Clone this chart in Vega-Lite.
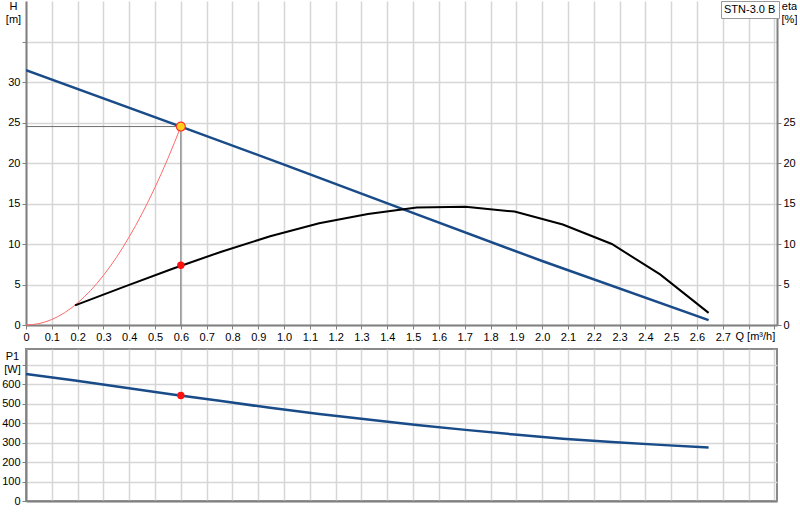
{
  "$schema": "https://vega.github.io/schema/vega-lite/v6.json",
  "background": "white",
  "padding": {"left": 0, "top": 0, "right": 0, "bottom": 0},
  "spacing": 6,
  "config": {
    "font": "Liberation Sans",
    "view": {"stroke": null},
    "axis": {
      "labelFont": "Liberation Sans",
      "labelFontSize": 11,
      "labelColor": "#000000",
      "titleFont": "Liberation Sans",
      "titleFontSize": 11,
      "titleFontWeight": "normal",
      "titleColor": "#000000",
      "domainColor": "#808080",
      "domainWidth": 2,
      "tickColor": "#808080",
      "tickSize": 4,
      "labelPadding": 2,
      "gridColor": "#d6d6d6",
      "gridWidth": 1.5,
      "labelOverlap": false,
      "labelFlush": false,
      "tickCount": 50
    },
    "legend": {
      "orient": "none",
      "legendX": 695,
      "legendY": 0,
      "padding": 3,
      "strokeColor": "#9a9a9a",
      "fillColor": "white",
      "symbolOpacity": 0,
      "symbolSize": 0,
      "symbolStrokeWidth": 0,
      "labelOffset": -11,
      "labelFontSize": 11,
      "labelFont": "Liberation Sans",
      "labelColor": "#000000"
    }
  },
  "datasets": {
    "head": [
      {"q": 0, "h": 31.45},
      {"q": 0.6, "h": 24.5},
      {"q": 1.0, "h": 19.8},
      {"q": 1.46, "h": 14.3},
      {"q": 2.0, "h": 7.9},
      {"q": 2.645, "h": 0.6}
    ],
    "eta": [
      {"q": 0.19, "eta": 2.43},
      {"q": 0.379, "eta": 4.7},
      {"q": 0.568, "eta": 6.95},
      {"q": 0.757, "eta": 9.05},
      {"q": 0.946, "eta": 10.95},
      {"q": 1.136, "eta": 12.55},
      {"q": 1.325, "eta": 13.7},
      {"q": 1.514, "eta": 14.5},
      {"q": 1.703, "eta": 14.6},
      {"q": 1.893, "eta": 14.0},
      {"q": 2.08, "eta": 12.4},
      {"q": 2.27, "eta": 10.0},
      {"q": 2.457, "eta": 6.25},
      {"q": 2.645, "eta": 1.5}
    ],
    "system": [
      {"q": 0, "h": 0},
      {"q": 0.05, "h": 0.17},
      {"q": 0.1, "h": 0.68},
      {"q": 0.15, "h": 1.53},
      {"q": 0.2, "h": 2.72},
      {"q": 0.25, "h": 4.25},
      {"q": 0.3, "h": 6.12},
      {"q": 0.35, "h": 8.33},
      {"q": 0.4, "h": 10.88},
      {"q": 0.45, "h": 13.77},
      {"q": 0.5, "h": 17.0},
      {"q": 0.55, "h": 20.57},
      {"q": 0.6, "h": 24.5}
    ],
    "power": [
      {"q": 0, "p": 652},
      {"q": 0.19, "p": 618},
      {"q": 0.379, "p": 583},
      {"q": 0.568, "p": 547},
      {"q": 0.757, "p": 513},
      {"q": 0.946, "p": 478},
      {"q": 1.136, "p": 447},
      {"q": 1.325, "p": 418},
      {"q": 1.514, "p": 390},
      {"q": 1.703, "p": 365},
      {"q": 1.893, "p": 341},
      {"q": 2.08, "p": 320},
      {"q": 2.27, "p": 303},
      {"q": 2.457, "p": 288},
      {"q": 2.645, "p": 275}
    ],
    "guides": [
      {"q": 0, "h": 24.5, "q2": 0.6, "h2": 24.5},
      {"q": 0.6, "h": 0, "q2": 0.6, "h2": 24.5}
    ],
    "duty": [
      {"q": 0.6, "h": 24.5, "eta": 7.37, "p": 541}
    ]
  },
  "vconcat": [
    {
      "width": 751,
      "height": 324,
      "layer": [
        {
          "layer": [
            {
              "data": {"name": "head"},
              "mark": {"type": "line", "strokeWidth": 2.5, "clip": true},
              "encoding": {
                "x": {
                  "field": "q",
                  "type": "quantitative",
                  "scale": {"domain": [0, 2.91], "nice": false, "zero": false},
                  "axis": {
                    "values": [0, 0.1, 0.2, 0.3, 0.4, 0.5, 0.6, 0.7, 0.8, 0.9, 1.0, 1.1, 1.2, 1.3, 1.4, 1.5, 1.6, 1.7, 1.8, 1.9, 2.0, 2.1, 2.2, 2.3, 2.4, 2.5, 2.6, 2.7, 2.8, 2.9],
                    "labelExpr": "datum.value > 2.75 ? '' : (datum.value == 0 ? '0' : format(datum.value, '.1f'))",
                    "title": "Q [m³/h]",
                    "titleX": 709,
                    "titleY": 5,
                    "titleAlign": "left",
                    "titleBaseline": "top",
                    "grid": true
                  }
                },
                "y": {
                  "field": "h",
                  "type": "quantitative",
                  "scale": {"domain": [0, 40], "nice": false},
                  "axis": {
                    "values": [0, 5, 10, 15, 20, 25, 30, 35],
                    "labelExpr": "datum.value > 30 ? '' : datum.label",
                    "title": ["H", "[m]"],
                    "titleAngle": 0,
                    "titleX": -13,
                    "titleY": 8,
                    "titleAlign": "center",
                    "titleBaseline": "alphabetic",
                    "titleLineHeight": 13,
                    "grid": true
                  }
                },
                "color": {
                  "datum": "STN-3.0 B",
                  "type": "nominal",
                  "scale": {"domain": ["STN-3.0 B"], "range": ["#184b88"]},
                  "legend": {"title": null}
                }
              }
            },
            {
              "data": {"name": "guides"},
              "mark": {"type": "rule", "color": "#707070", "strokeWidth": 1},
              "encoding": {
                "x": {"field": "q", "type": "quantitative"},
                "x2": {"field": "q2"},
                "y": {"field": "h", "type": "quantitative"},
                "y2": {"field": "h2"}
              }
            },
            {
              "data": {"name": "system"},
              "mark": {"type": "line", "color": "#ff6a6a", "strokeWidth": 1, "interpolate": "monotone"},
              "encoding": {
                "x": {"field": "q", "type": "quantitative"},
                "y": {"field": "h", "type": "quantitative"}
              }
            },
            {
              "data": {"name": "duty"},
              "mark": {"type": "point", "shape": "circle", "filled": true, "fill": "#ffd21a", "stroke": "#ff3030", "strokeWidth": 1.2, "size": 80, "opacity": 1},
              "encoding": {
                "x": {"field": "q", "type": "quantitative"},
                "y": {"field": "h", "type": "quantitative"}
              }
            }
          ]
        },
        {
          "layer": [
            {
              "data": {"name": "eta"},
              "mark": {"type": "line", "color": "#000000", "strokeWidth": 2},
              "encoding": {
                "x": {"field": "q", "type": "quantitative"},
                "y": {
                  "field": "eta",
                  "type": "quantitative",
                  "scale": {"domain": [0, 40], "nice": false},
                  "axis": {
                    "orient": "right",
                    "values": [0, 5, 10, 15, 20, 25],
                    "title": ["eta", "[%]"],
                    "titleAngle": 0,
                    "titleX": 12,
                    "titleY": 8,
                    "titleAlign": "center",
                    "titleBaseline": "alphabetic",
                    "titleLineHeight": 13,
                    "grid": false
                  }
                }
              }
            },
            {
              "data": {"name": "duty"},
              "mark": {"type": "circle", "color": "#ff1010", "size": 55, "opacity": 1},
              "encoding": {
                "x": {"field": "q", "type": "quantitative"},
                "y": {"field": "eta", "type": "quantitative"}
              }
            }
          ]
        }
      ],
      "resolve": {"scale": {"y": "independent"}}
    },
    {
      "width": 751,
      "height": 152,
      "view": {"stroke": "#8a8a8a", "strokeWidth": 2},
      "layer": [
        {
          "data": {"name": "power"},
          "mark": {"type": "line", "color": "#184b88", "strokeWidth": 2.5},
          "encoding": {
            "x": {
              "field": "q",
              "type": "quantitative",
              "scale": {"domain": [0, 2.91], "nice": false, "zero": false},
              "axis": {
                "values": [0, 0.1, 0.2, 0.3, 0.4, 0.5, 0.6, 0.7, 0.8, 0.9, 1.0, 1.1, 1.2, 1.3, 1.4, 1.5, 1.6, 1.7, 1.8, 1.9, 2.0, 2.1, 2.2, 2.3, 2.4, 2.5, 2.6, 2.7, 2.8, 2.9],
                "labels": false,
                "ticks": false,
                "title": null,
                "grid": true
              }
            },
            "y": {
              "field": "p",
              "type": "quantitative",
              "scale": {"domain": [0, 780], "nice": false},
              "axis": {
                "values": [0, 100, 200, 300, 400, 500, 600, 700],
                "labelExpr": "datum.value > 650 ? '' : datum.label",
                "title": ["P1", "[W]"],
                "titleAngle": 0,
                "titleX": -14,
                "titleY": 10,
                "titleAlign": "center",
                "titleBaseline": "alphabetic",
                "titleLineHeight": 13,
                "grid": true
              }
            }
          }
        },
        {
          "data": {"name": "duty"},
          "mark": {"type": "circle", "color": "#ff1010", "size": 55, "opacity": 1},
          "encoding": {
            "x": {"field": "q", "type": "quantitative"},
            "y": {"field": "p", "type": "quantitative"}
          }
        }
      ]
    }
  ]
}
